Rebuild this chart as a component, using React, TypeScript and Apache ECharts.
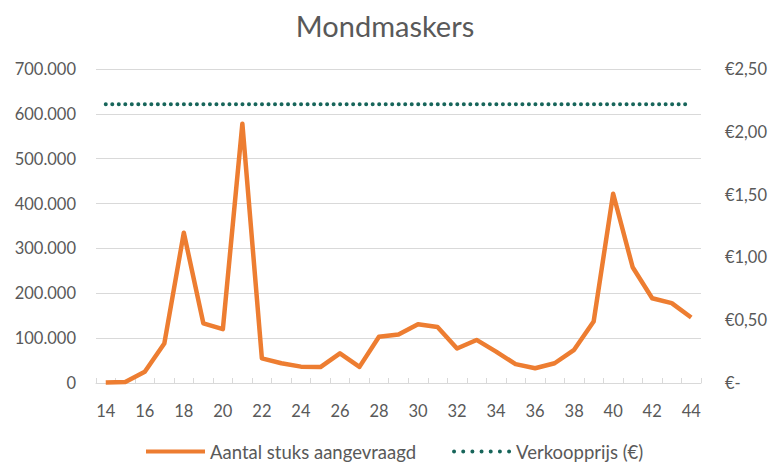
import React, { useEffect, useRef } from "react";
import * as echarts from "echarts";

const weeks = ["14","15","16","17","18","19","20","21","22","23","24","25","26","27","28","29","30","31","32","33","34","35","36","37","38","39","40","41","42","43","44"];
const aantalStuks = [1000, 2000, 25000, 88000, 335000, 133000, 120000, 578000, 55000, 44000, 36500, 35500, 66000, 36000, 103000, 108000, 131000, 125000, 77000, 96000, 70000, 42000, 33000, 44000, 74000, 137000, 422000, 258000, 189000, 178000, 146000];
const verkoopprijs = weeks.map(() => 2.22);
const seriesNames = ["Aantal stuks aangevraagd", "Verkoopprijs (€)"];

const FONT = "Lato, 'Open Sans', sans-serif";
const GRAY = "#595959";
const DOTS_ICON =
  "path://" +
  [0, 9.2, 18.4, 27.6, 36.8, 46, 55.2]
    .map((x) => `M${x},2 a2,2 0 1,0 4,0 a2,2 0 1,0 -4,0 Z`)
    .join(" ");

export default function App() {
  const ref = useRef<HTMLDivElement>(null);
  useEffect(() => {
    document.body.style.margin = "0";
    const chart = echarts.init(ref.current!, null, { renderer: "svg" });
    chart.setOption({
      animation: false,
      backgroundColor: "#ffffff",
      title: {
        text: "Mondmaskers",
        left: "center",
        top: 6,
        textStyle: { fontFamily: FONT, fontSize: 29, fontWeight: "normal", color: GRAY },
      },
      legend: {
        top: 442,
        left: 146,
        padding: 0,
        itemWidth: 59,
        itemHeight: 4,
        itemGap: 36,
        textStyle: { fontFamily: FONT, fontSize: 18.5, color: GRAY },
        data: [
          { name: seriesNames[0], icon: "rect", itemStyle: { color: "#ED7D31" } },
          { name: seriesNames[1], icon: DOTS_ICON, itemStyle: { color: "#17655a" } },
        ],
      },
      grid: { left: 96, right: 68, top: 69, bottom: 82 },
      xAxis: {
        type: "category",
        data: weeks,
        boundaryGap: true,
        axisLine: { lineStyle: { color: "#d9d9d9" } },
        axisTick: { show: true, inside: true, interval: 0, length: 5, lineStyle: { color: "#d9d9d9" } },
        axisLabel: { interval: 1, fontFamily: FONT, fontSize: 16.5, color: GRAY, margin: 19 },
      },
      yAxis: [
        {
          type: "value",
          min: 0,
          max: 700000,
          interval: 100000,
          axisLine: { show: false },
          axisTick: { show: false },
          splitLine: { lineStyle: { color: "#d9d9d9" } },
          axisLabel: {
            fontFamily: FONT,
            fontSize: 16.5,
            color: GRAY,
            margin: 20,
            formatter: (v: number) => (v === 0 ? "0" : v.toLocaleString("de-DE")),
          },
        },
        {
          type: "value",
          min: 0,
          max: 2.5,
          interval: 0.5,
          position: "right",
          axisLine: { show: false },
          axisTick: { show: false },
          splitLine: { show: false },
          axisLabel: {
            fontFamily: FONT,
            fontSize: 16.5,
            color: GRAY,
            margin: 24,
            formatter: (v: number) => (v === 0 ? "€-" : "€" + v.toFixed(2).replace(".", ",")),
          },
        },
      ],
      series: [
        {
          name: seriesNames[0],
          type: "line",
          data: aantalStuks,
          yAxisIndex: 0,
          symbol: "none",
          lineStyle: { color: "#ED7D31", width: 4.5, join: "round" },
          itemStyle: { color: "#ED7D31" },
        },
        {
          name: seriesNames[1],
          type: "line",
          data: verkoopprijs,
          yAxisIndex: 1,
          symbol: "none",
          lineStyle: { color: "#17655a", width: 4, type: [0.01, 6.5], cap: "round" },
          itemStyle: { color: "#17655a" },
        },
      ],
    });
    return () => chart.dispose();
  }, []);
  return <div ref={ref} style={{ width: 770, height: 465 }} />;
}
